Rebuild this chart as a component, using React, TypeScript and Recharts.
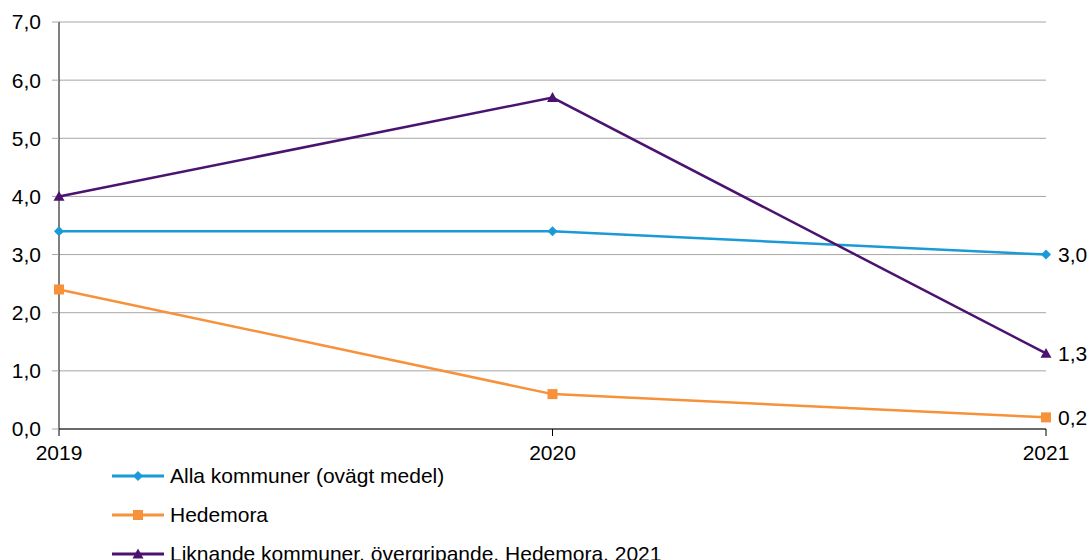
import React from "react";
import { LineChart, Line, XAxis, YAxis, CartesianGrid, Legend, LabelList } from "recharts";

const years = ["2019", "2020", "2021"];
const allaKommuner = [3.4, 3.4, 3.0];
const hedemora = [2.4, 0.6, 0.2];
const liknande = [4.0, 5.7, 1.3];
const yTicks = [0, 1, 2, 3, 4, 5, 6, 7];

const seriesNames = {
  alla: "Alla kommuner (ovägt medel)",
  hed: "Hedemora",
  lik: "Liknande kommuner, övergripande, Hedemora, 2021",
};

const COLORS = { alla: "#1b9ad8", hed: "#f7913a", lik: "#4b136f" };

const data = years.map((y, i) => ({
  year: y,
  alla: allaKommuner[i],
  hed: hedemora[i],
  lik: liknande[i],
}));

const fmt = (v: number) => v.toFixed(1).replace(".", ",");
const FONT = "'Liberation Sans', Arial, sans-serif";
const FS = 21;

type Shape = "diamond" | "square" | "triangle";

const Marker = ({ cx, cy, shape, color }: { cx: number; cy: number; shape: Shape; color: string }) => {
  if (shape === "diamond") {
    const s = 5;
    return <polygon points={`${cx},${cy - s} ${cx + s},${cy} ${cx},${cy + s} ${cx - s},${cy}`} fill={color} />;
  }
  if (shape === "square") {
    const s = 5;
    return <rect x={cx - s} y={cy - s} width={2 * s} height={2 * s} fill={color} />;
  }
  const s = 5.5;
  return <polygon points={`${cx},${cy - s} ${cx + s},${cy + s * 0.8} ${cx - s},${cy + s * 0.8}`} fill={color} />;
};

const makeDot = (shape: Shape, color: string) => (props: any) => {
  const { cx, cy, index } = props;
  if (cx == null || cy == null) return <g key={index} />;
  return <Marker key={index} cx={cx} cy={cy} shape={shape} color={color} />;
};

const endLabel = (props: any) => {
  const { x, y, value, index } = props;
  if (index !== years.length - 1) return null;
  return (
    <text x={Number(x) + 12} y={Number(y)} dy={7.5} fontSize={FS} fontFamily={FONT} fill="#000">
      {fmt(Number(value))}
    </text>
  );
};

const legendItems: { key: "alla" | "hed" | "lik"; shape: Shape }[] = [
  { key: "alla", shape: "diamond" },
  { key: "hed", shape: "square" },
  { key: "lik", shape: "triangle" },
];

const LegendContent = () => (
  <div style={{ position: "relative", width: 800, height: 101 }}>
    {legendItems.map((it, i) => (
      <div key={it.key} style={{ position: "absolute", left: 112, top: 2 + i * 39, height: 30, display: "flex", alignItems: "center" }}>
        <svg width={52} height={14} style={{ display: "block" }}>
          <line x1={0} y1={7} x2={52} y2={7} stroke={COLORS[it.key]} strokeWidth={3} />
          <Marker cx={26} cy={7} shape={it.shape} color={COLORS[it.key]} />
        </svg>
        <span style={{ marginLeft: 6, fontSize: FS, fontFamily: FONT, color: "#000", whiteSpace: "nowrap", lineHeight: "30px" }}>
          {seriesNames[it.key]}
        </span>
      </div>
    ))}
  </div>
);

export default function App() {
  return (
    <div style={{ position: "absolute", left: 0, top: 0, width: 1090, height: 560, background: "#fff", overflow: "hidden" }}>
      <LineChart width={1090} height={560} data={data} margin={{ top: 22, right: 44, left: 0, bottom: 0 }}>
        <CartesianGrid horizontal vertical={false} stroke="#a6a6a6" strokeWidth={1} />
        <XAxis
          dataKey="year"
          height={30}
          axisLine={{ stroke: "#000" }}
          tickLine={{ stroke: "#000" }}
          tickSize={7}
          tickMargin={9}
          tick={{ fontSize: FS, fontFamily: FONT, fill: "#000" }}
          interval={0}
        />
        <YAxis
          width={59}
          domain={[0, 7]}
          ticks={yTicks}
          tickFormatter={fmt}
          axisLine={{ stroke: "#000" }}
          tickLine={{ stroke: "#a6a6a6" }}
          tickSize={7}
          tickMargin={11}
          tick={{ fontSize: FS, fontFamily: FONT, fill: "#000" }}
          interval={0}
        />
        <Legend verticalAlign="bottom" align="left" content={() => <LegendContent />} wrapperStyle={{ left: 0, width: 800, height: 101 }} />
        <Line type="linear" dataKey="alla" name={seriesNames.alla} stroke={COLORS.alla} strokeWidth={2.5} dot={makeDot("diamond", COLORS.alla)} activeDot={false} isAnimationActive={false}>
          <LabelList dataKey="alla" content={endLabel} />
        </Line>
        <Line type="linear" dataKey="hed" name={seriesNames.hed} stroke={COLORS.hed} strokeWidth={2.5} dot={makeDot("square", COLORS.hed)} activeDot={false} isAnimationActive={false}>
          <LabelList dataKey="hed" content={endLabel} />
        </Line>
        <Line type="linear" dataKey="lik" name={seriesNames.lik} stroke={COLORS.lik} strokeWidth={2.5} dot={makeDot("triangle", COLORS.lik)} activeDot={false} isAnimationActive={false}>
          <LabelList dataKey="lik" content={endLabel} />
        </Line>
      </LineChart>
    </div>
  );
}
